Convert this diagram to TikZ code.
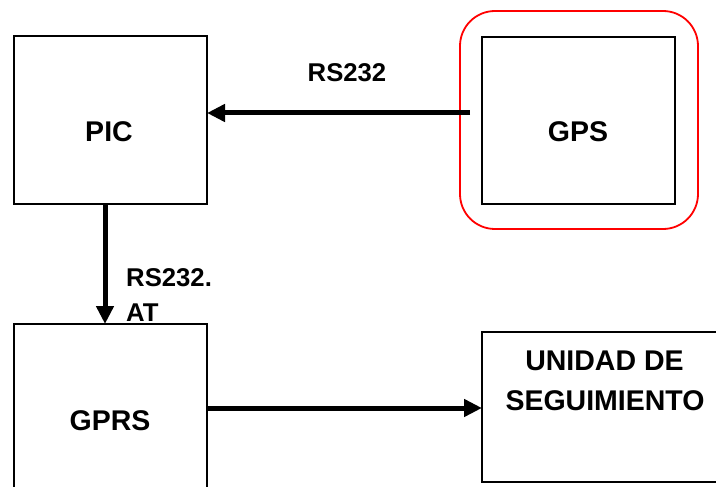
\documentclass[tikz,border=0pt]{standalone}
\usepackage{fontspec}
\setmainfont{Liberation Sans}
\usetikzlibrary{arrows.meta}
\begin{document}
\begin{tikzpicture}[x=1pt,y=-1pt,
  blk/.style={draw=black,line width=1.8pt,inner sep=0pt,outer sep=0pt},
  frame/.style={draw=red,line width=1.8pt,rounded corners=35pt,inner sep=0pt,outer sep=0pt},
  boxtext/.style={inner sep=0pt,anchor=base,font=\fontsize{28.5}{34}\selectfont\bfseries},
  lbl/.style={inner sep=0pt,font=\fontsize{25.7}{30}\selectfont\bfseries},
  arr/.style={line width=5pt,-{Triangle[length=18pt,width=17pt]}}]
\useasboundingbox (0,0) rectangle (716,487);
\clip (0,0) rectangle (716,487);
\fill[white] (0,0) rectangle (716,487);

% blocks
\node[blk,minimum width=193pt,minimum height=168pt] (pic) at (110.5,120) {};
\node[frame,minimum width=238pt,minimum height=218pt] (gpsframe) at (579,120) {};
\node[blk,minimum width=193pt,minimum height=167pt] (gps) at (578.5,120.5) {};
\node[blk,minimum width=193pt,minimum height=176pt] (gprs) at (110.5,412) {};
\node[blk,minimum width=248pt,minimum height=150pt] (unidad) at (606,407) {};

% block titles
\node[boxtext] (pictxt) at (109,142) {PIC};
\node[boxtext] (gpstxt) at (578,142) {GPS};
\node[boxtext] (gprstxt) at (110,430) {GPRS};
\node[boxtext] (unidadtxt1) at (604.5,370) {UNIDAD DE};
\node[boxtext] (unidadtxt2) at (605,410) {SEGUIMIENTO};

% links
\coordinate (gpsout) at ([xshift=-12pt,yshift=7.5pt]gps.west);
\draw[arr] (gpsout) -- (gpsout -| pic.east);
\draw[arr] ([xshift=-5.5pt]pic.south) -- ([xshift=-5.5pt]gprs.north);
\draw[arr] ([yshift=4pt]gprs.east) -- ([yshift=-1pt]unidad.west);

% link labels
\node[lbl,anchor=base] (rs1) at (347,82) {RS232};
\node[lbl,anchor=base west] (rs2) at (126,286) {RS232.};
\node[lbl,anchor=base west] (at) at (126,321) {AT};
\end{tikzpicture}
\end{document}
